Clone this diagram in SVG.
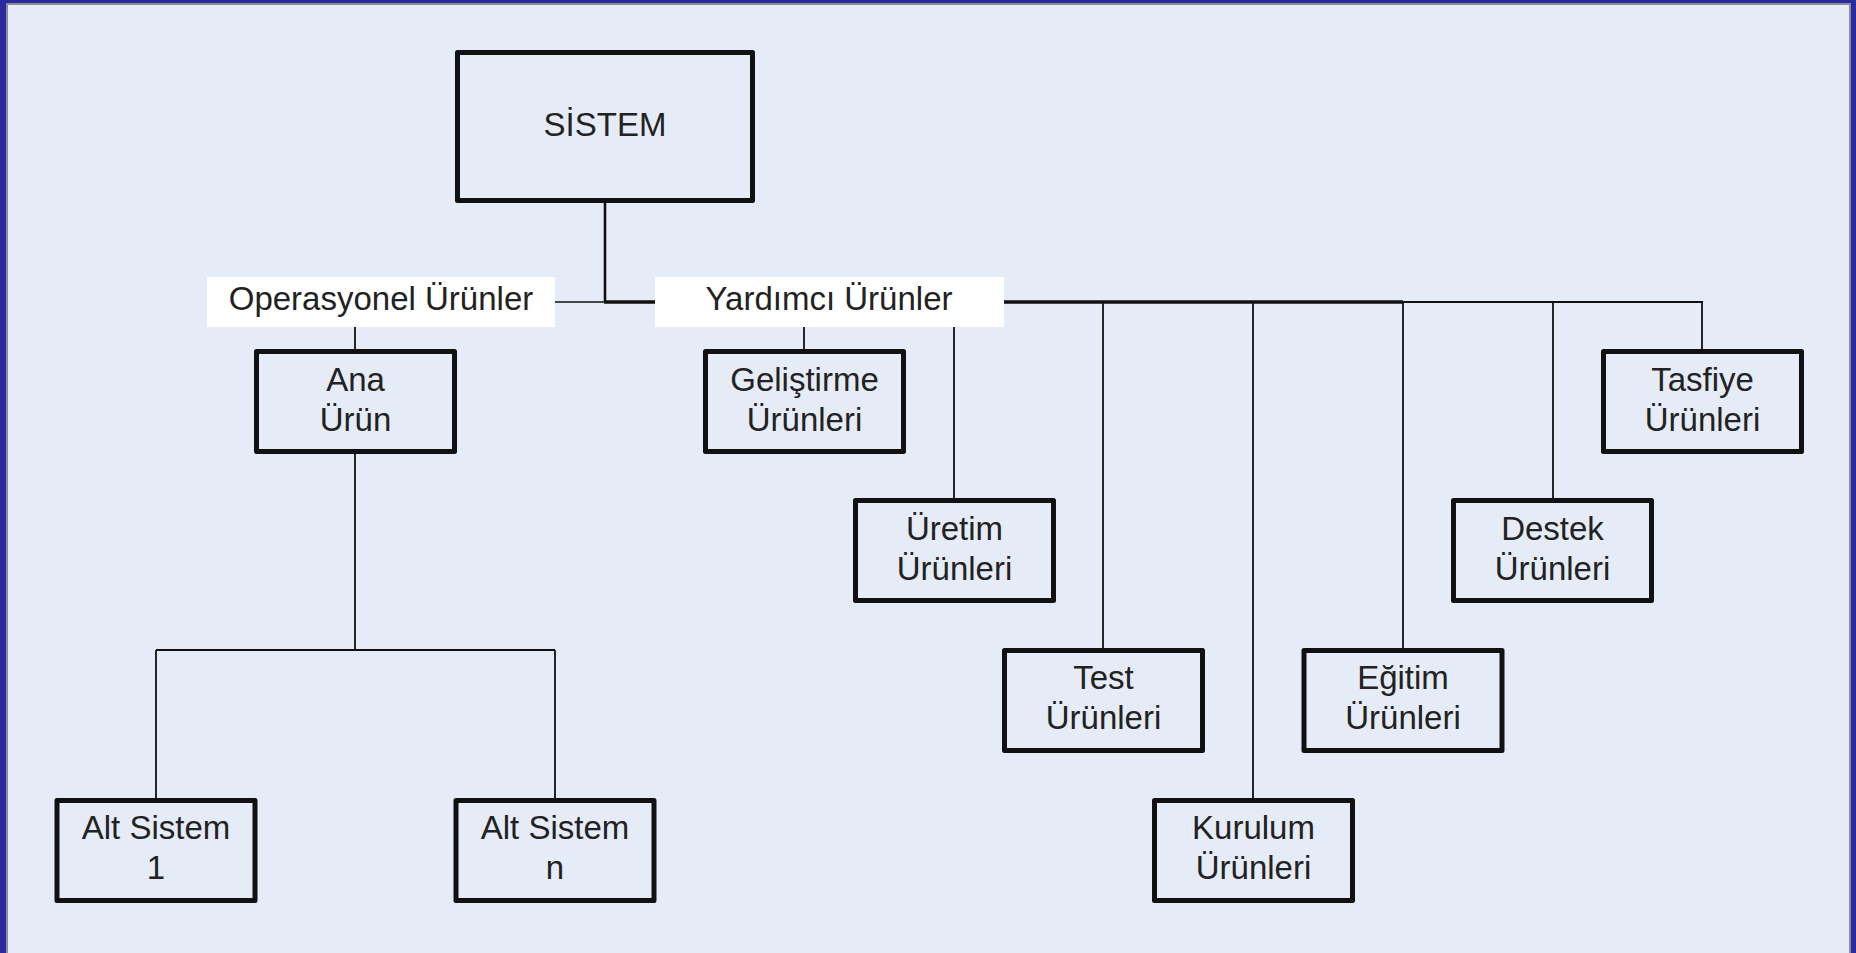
<svg xmlns="http://www.w3.org/2000/svg" width="1856" height="953" viewBox="0 0 1856 953">
  <style>
    .box { fill: #e6ecf7; stroke: #111; stroke-width: 5; stroke-linejoin: round; }
    .lbl { fill: #ffffff; stroke: none; }
    .txt { font-family: "Liberation Sans", Arial, sans-serif; font-size: 33px; fill: #222; text-anchor: middle; }
    .ln { stroke: #111; stroke-width: 1.8; fill: none; }
    .thick { stroke: #111; stroke-width: 3.5; fill: none; }
  </style>

  <!-- page background and frame -->
  <rect x="0" y="0" width="1856" height="953" fill="#e6ecf7"/>
  <rect x="0" y="0" width="6" height="953" fill="#2a2a9e"/>
  <rect x="0" y="0" width="1856" height="3" fill="#2a2a9e"/>
  <rect x="1851" y="0" width="5" height="953" fill="#2a2a9e"/>
  <line x1="7" y1="4" x2="7" y2="953" stroke="#8a8c9a" stroke-width="2"/>
  <line x1="6" y1="4" x2="1851" y2="4" stroke="#8a8c9a" stroke-width="2"/>
  <line x1="1850" y1="4" x2="1850" y2="953" stroke="#8a8c9a" stroke-width="2"/>

  <!-- connectors -->
  <g id="connectors">
    <line class="ln" x1="605" y1="203" x2="605" y2="302" style="stroke-width:2.6"/>
    <line class="ln" x1="555" y1="302" x2="605" y2="302" style="stroke-width:1.5"/>
    <line class="thick" x1="604" y1="302" x2="655" y2="302"/>
    <line class="thick" x1="1004" y1="302" x2="1403" y2="302"/>
    <line class="ln" x1="1403" y1="302" x2="1703" y2="302" style="stroke-width:2.2"/>
    <line class="ln" x1="804" y1="327" x2="804" y2="349"/>
    <line class="ln" x1="954" y1="327" x2="954" y2="498"/>
    <line class="ln" x1="1103" y1="302" x2="1103" y2="648"/>
    <line class="ln" x1="1253" y1="302" x2="1253" y2="798"/>
    <line class="ln" x1="1403" y1="302" x2="1403" y2="648"/>
    <line class="ln" x1="1553" y1="302" x2="1553" y2="498"/>
    <line class="ln" x1="1702" y1="302" x2="1702" y2="349"/>
    <line class="ln" x1="355" y1="327" x2="355" y2="349"/>
    <line class="ln" x1="355" y1="454" x2="355" y2="650"/>
    <line class="ln" x1="156" y1="650" x2="555" y2="650"/>
    <line class="ln" x1="156" y1="650" x2="156" y2="798"/>
    <line class="ln" x1="555" y1="650" x2="555" y2="798"/>
  </g>

  <!-- top node -->
  <g id="sistem">
    <rect class="box" x="457.5" y="52.5" width="295" height="148"/>
    <text class="txt" x="605" y="136">SİSTEM</text>
  </g>

  <!-- group labels -->
  <g id="operasyonel">
    <rect class="lbl" x="207" y="277" width="348" height="50"/>
    <text class="txt" x="381" y="310">Operasyonel Ürünler</text>
  </g>
  <g id="yardimci">
    <rect class="lbl" x="655" y="277" width="349" height="50"/>
    <text class="txt" x="829" y="310">Yardımcı Ürünler</text>
  </g>

  <!-- operational branch -->
  <g id="ana-urun">
    <rect class="box" x="256.5" y="351.5" width="198" height="100"/>
    <text class="txt" x="355.5" y="391">Ana</text>
    <text class="txt" x="355.5" y="431">Ürün</text>
  </g>
  <g id="alt-sistem-1">
    <rect class="box" x="57" y="800.5" width="198" height="100"/>
    <text class="txt" x="156" y="839">Alt Sistem</text>
    <text class="txt" x="156" y="879">1</text>
  </g>
  <g id="alt-sistem-n">
    <rect class="box" x="456" y="800.5" width="198" height="100"/>
    <text class="txt" x="555" y="839">Alt Sistem</text>
    <text class="txt" x="555" y="879">n</text>
  </g>

  <!-- support branch -->
  <g id="gelistirme">
    <rect class="box" x="705.5" y="351.5" width="198" height="100"/>
    <text class="txt" x="804.5" y="391">Geliştirme</text>
    <text class="txt" x="804.5" y="431">Ürünleri</text>
  </g>
  <g id="uretim">
    <rect class="box" x="855.5" y="500.5" width="198" height="100"/>
    <text class="txt" x="954.5" y="540">Üretim</text>
    <text class="txt" x="954.5" y="580">Ürünleri</text>
  </g>
  <g id="test">
    <rect class="box" x="1004.5" y="650.5" width="198" height="100"/>
    <text class="txt" x="1103.5" y="689">Test</text>
    <text class="txt" x="1103.5" y="729">Ürünleri</text>
  </g>
  <g id="kurulum">
    <rect class="box" x="1154.5" y="800.5" width="198" height="100"/>
    <text class="txt" x="1253.5" y="839">Kurulum</text>
    <text class="txt" x="1253.5" y="879">Ürünleri</text>
  </g>
  <g id="egitim">
    <rect class="box" x="1304" y="650.5" width="198" height="100"/>
    <text class="txt" x="1403" y="689">Eğitim</text>
    <text class="txt" x="1403" y="729">Ürünleri</text>
  </g>
  <g id="destek">
    <rect class="box" x="1453.5" y="500.5" width="198" height="100"/>
    <text class="txt" x="1552.5" y="540">Destek</text>
    <text class="txt" x="1552.5" y="580">Ürünleri</text>
  </g>
  <g id="tasfiye">
    <rect class="box" x="1603.5" y="351.5" width="198" height="100"/>
    <text class="txt" x="1702.5" y="391">Tasfiye</text>
    <text class="txt" x="1702.5" y="431">Ürünleri</text>
  </g>
</svg>
